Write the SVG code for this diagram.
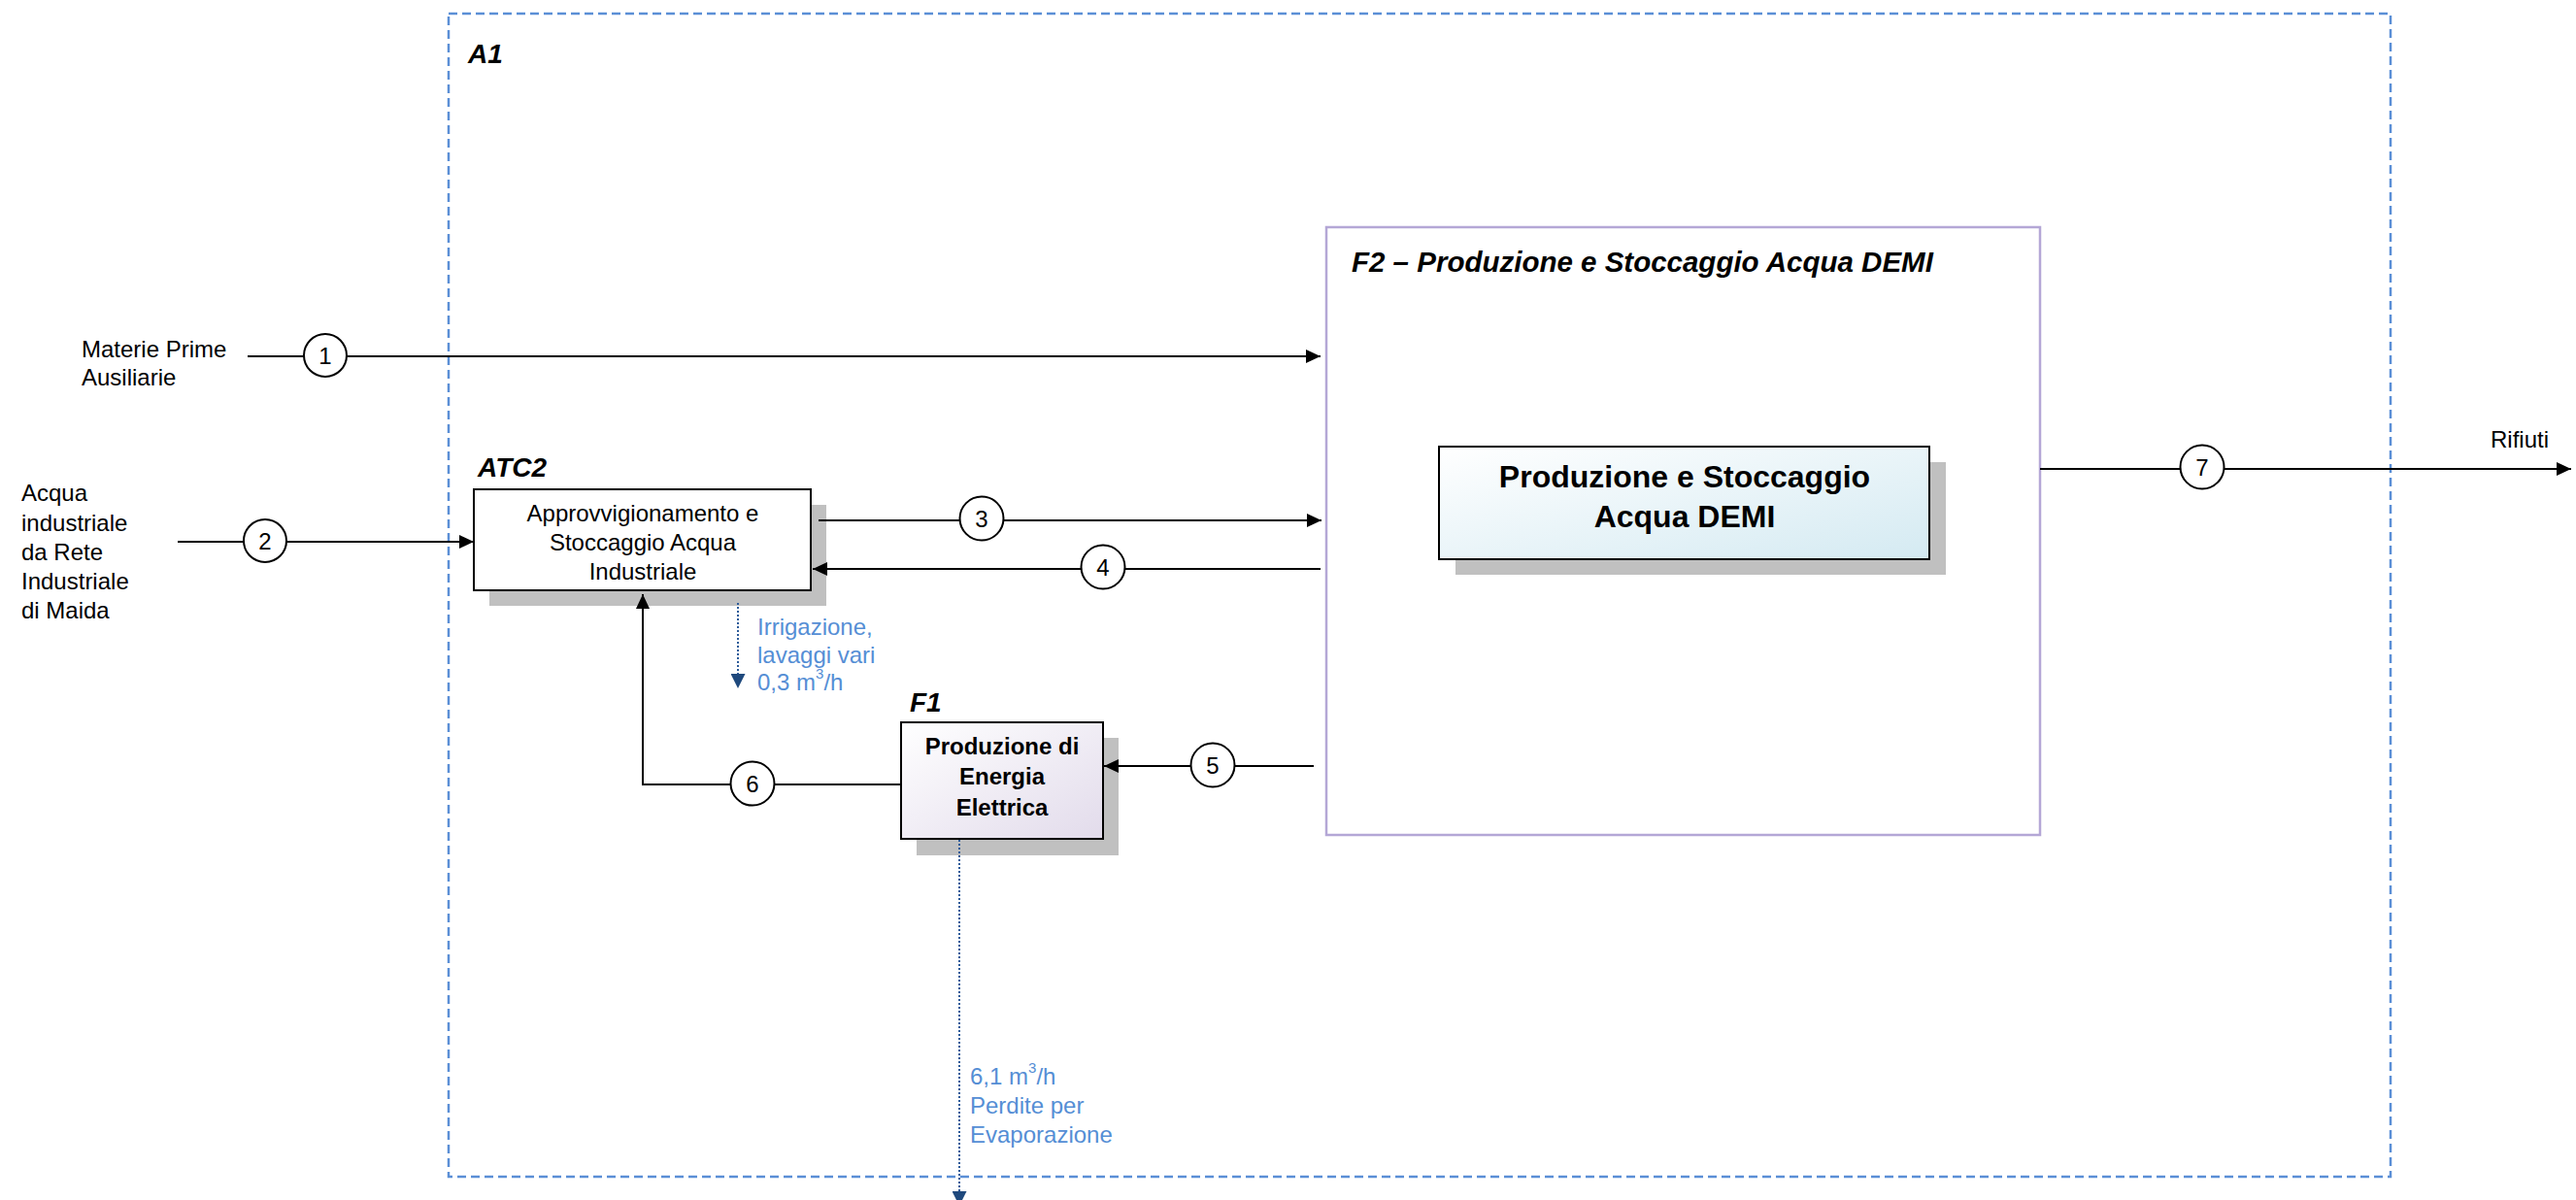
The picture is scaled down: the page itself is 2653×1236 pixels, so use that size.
<svg xmlns="http://www.w3.org/2000/svg" width="2653" height="1236" viewBox="0 0 2653 1236">
<style>
text{font-family:"Liberation Sans",Arial,sans-serif;font-size:24px;fill:#000}
.lbl{font-weight:bold;font-style:italic;font-size:28px}
.b{font-weight:bold}
.blue{fill:#558ED5}
.mid{text-anchor:middle}
.box{stroke:#000;stroke-width:2}
.shadow{fill:#C0C0C0}
.flow{fill:none;stroke:#000;stroke-width:2}
.loss{fill:none;stroke:#2E5C9A;stroke-width:2;stroke-dasharray:2 2}
.num{fill:#fff;stroke:#000;stroke-width:2}
</style>
<defs>
<marker id="ah" markerUnits="userSpaceOnUse" markerWidth="16" markerHeight="14" refX="15" refY="7" orient="auto">
<path d="M0,0 L15,7 L0,14 Z" fill="#000"/>
</marker>
<marker id="ahb" markerUnits="userSpaceOnUse" markerWidth="16" markerHeight="15" refX="15" refY="7.5" orient="auto">
<path d="M0,0 L15,7.5 L0,15 Z" fill="#1F497D"/>
</marker>
<linearGradient id="gF1" x1="0" y1="0" x2="1" y2="1">
<stop offset="0" stop-color="#FFFFFF"/>
<stop offset="1" stop-color="#E2DBEB"/>
</linearGradient>
<linearGradient id="gF2" x1="0" y1="0" x2="1" y2="1">
<stop offset="0" stop-color="#FFFFFF"/>
<stop offset="1" stop-color="#D4EAF2"/>
</linearGradient>
</defs>
<rect width="2653" height="1236" fill="#fff"/>

<g id="A1">
<rect x="462" y="14" width="2000" height="1198" fill="none" stroke="#5B8FD6" stroke-width="2.5" stroke-dasharray="9 5"/>
<text class="lbl" x="482" y="65">A1</text>
</g>

<g id="F2">
<rect x="1366" y="234" width="735" height="626" fill="#fff" stroke="#B4A7D6" stroke-width="2.5"/>
<text class="lbl" x="1392" y="280" style="font-size:29.5px">F2 – Produzione e Stoccaggio Acqua DEMI</text>
</g>

<g id="DEMI">
<rect class="shadow" x="1499" y="476" width="505" height="116"/>
<rect class="box" x="1482" y="460" width="505" height="116" fill="url(#gF2)"/>
<text class="b mid" x="1735" y="502" style="font-size:32px">Produzione e Stoccaggio</text>
<text class="b mid" x="1735" y="543" style="font-size:32px">Acqua DEMI</text>
</g>

<g id="ATC2">
<rect class="shadow" x="504" y="520" width="347" height="104"/>
<rect class="box" x="488" y="504" width="347" height="104" fill="#fff"/>
<text class="lbl" x="492" y="491">ATC2</text>
<text class="mid" x="662" y="537">Approvvigionamento e</text>
<text class="mid" x="662" y="567">Stoccaggio Acqua</text>
<text class="mid" x="662" y="597">Industriale</text>
</g>

<g id="F1">
<rect class="shadow" x="944" y="760" width="208" height="121"/>
<rect class="box" x="928" y="744" width="208" height="120" fill="url(#gF1)"/>
<text class="lbl" x="937" y="733">F1</text>
<text class="b mid" x="1032" y="777">Produzione di</text>
<text class="b mid" x="1032" y="808">Energia</text>
<text class="b mid" x="1032" y="840">Elettrica</text>
</g>

<g id="sources">
<text x="84" y="368">Materie Prime</text>
<text x="84" y="397">Ausiliarie</text>
<text x="22" y="516">Acqua</text>
<text x="22" y="547">industriale</text>
<text x="22" y="577">da Rete</text>
<text x="22" y="607">Industriale</text>
<text x="22" y="637">di Maida</text>
<text x="2565" y="461">Rifiuti</text>
</g>

<g id="connectors">
<path class="flow" d="M255,367 L1360,367" marker-end="url(#ah)"/>
<path class="flow" d="M183,558 L488,558" marker-end="url(#ah)"/>
<path class="flow" d="M843,536 L1361,536" marker-end="url(#ah)"/>
<path class="flow" d="M1360,586 L837,586" marker-end="url(#ah)"/>
<path class="flow" d="M1353,789 L1137,789" marker-end="url(#ah)"/>
<path class="flow" d="M928,808 L662,808 L662,612" marker-end="url(#ah)"/>
<path class="flow" d="M2101,483 L2648,483" marker-end="url(#ah)"/>
<path class="loss" d="M760,621 L760,709" marker-end="url(#ahb)"/>
<path class="loss" d="M988,865 L988,1242" marker-end="url(#ahb)"/>

<circle class="num" cx="335" cy="366" r="22"/>
<text class="mid" x="335" y="375">1</text>
<circle class="num" cx="273" cy="557" r="22"/>
<text class="mid" x="273" y="566">2</text>
<circle class="num" cx="1011" cy="534" r="22.5"/>
<text class="mid" x="1011" y="543">3</text>
<circle class="num" cx="1136" cy="584" r="22.5"/>
<text class="mid" x="1136" y="593">4</text>
<circle class="num" cx="1249" cy="788" r="22.5"/>
<text class="mid" x="1249" y="797">5</text>
<circle class="num" cx="775" cy="807" r="22.5"/>
<text class="mid" x="775" y="816">6</text>
<circle class="num" cx="2268" cy="481" r="22.5"/>
<text class="mid" x="2268" y="490">7</text>

<text class="blue" x="780" y="654">Irrigazione,</text>
<text class="blue" x="780" y="683">lavaggi vari</text>
<text class="blue" x="780" y="711">0,3 m<tspan dy="-12" style="font-size:15px">3</tspan><tspan dy="12">/h</tspan></text>
<text class="blue" x="999" y="1117">6,1 m<tspan dy="-12" style="font-size:15px">3</tspan><tspan dy="12">/h</tspan></text>
<text class="blue" x="999" y="1147">Perdite per</text>
<text class="blue" x="999" y="1177">Evaporazione</text>
</g>
</svg>
